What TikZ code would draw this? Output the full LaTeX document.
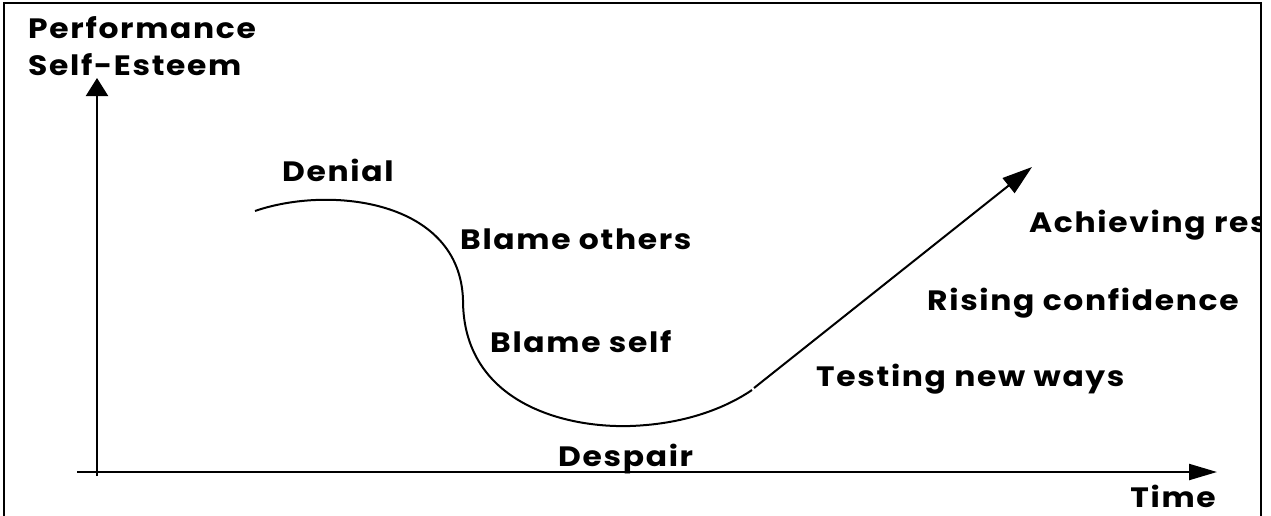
\documentclass[tikz,border=0pt]{standalone}
\usepackage{fontspec}
\setmainfont{Poppins}[FakeStretch=1.12,LetterSpace=6]
\usetikzlibrary{arrows.meta}
\begin{document}
\begin{tikzpicture}[x=1pt,y=-1pt,
  lbl/.style={anchor=base west, inner sep=0pt, font=\fontsize{28}{30}\selectfont\bfseries},
  ln/.style={line width=2pt},
  ax/.style={line width=2.2pt}]
\useasboundingbox (0,0) rectangle (1271,515);
\draw[line width=1.8pt] (4,520) -- (4,3) -- (1261,3) -- (1261,520);
% axes
\coordinate (ybot) at (97,476);
\coordinate (ytop) at (97,78);
\coordinate (xl) at (77,472);
\coordinate (xr) at (1217,472);
\draw[ax,-{Triangle[length=18pt,width=22pt]}] (ybot) -- (ytop);
\draw[ax,-{Triangle[length=28pt,width=16pt]}] (xl) -- (xr);
% curve
\coordinate (c0) at (255,211);
\coordinate (c1) at (463,300);
\coordinate (c2) at (630,426);
\coordinate (c3) at (752,390);
\draw[ln] (c0) .. controls (330,185) and (460,200) .. (c1)
  .. controls (463,400) and (560,428) .. (c2)
  .. controls (690,424) and (730,405) .. (c3);
\coordinate (s) at (754,388);
\coordinate (t) at (1032,167);
\draw[ln,-{Triangle[length=30pt,width=19pt]}] (s) -- (t);
% labels
\node[lbl] (perf) at (28,38) {Performance};
\node[lbl] (self) at (28,75) {Self-Esteem};
\node[lbl] (den) at (282,181) {Denial};
\node[lbl] (bo) at (460,249) {Blame others};
\node[lbl] (bs) at (490,352) {Blame self};
\node[lbl] (desp) at (558,466) {Despair};
\node[lbl] (test) at (816,386) {Testing new ways};
\node[lbl] (rise) at (927,310) {Rising confidence};
\begin{scope}
\clip (4,3) rectangle (1260,515);
\node[lbl] (ach) at (1029,232) {Achieving res};
\end{scope}
\node[lbl,anchor=base east] (time) at (1216,507) {Time};
\end{tikzpicture}
\end{document}
